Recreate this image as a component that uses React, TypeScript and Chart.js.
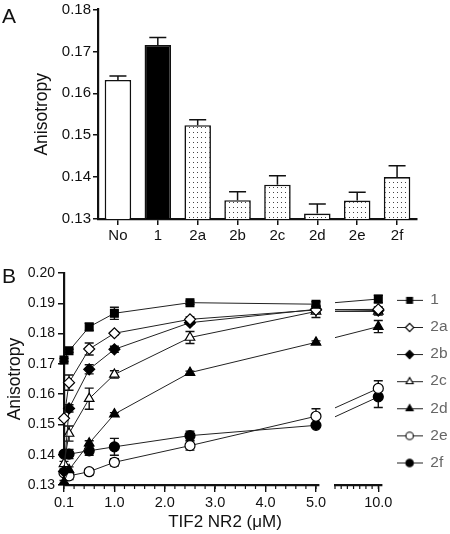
import React, { useEffect, useRef } from 'react';
import { Chart, registerables } from 'chart.js';
import { drawPoint } from 'chart.js/helpers';

Chart.register(...registerables);

const FONT = "'Liberation Sans', Arial, Helvetica, sans-serif";
const INK = '#111';

// ---------- Panel A data ----------
const A_CATEGORIES = ['No', '1', '2a', '2b', '2c', '2d', '2e', '2f'];
const A_VALUES = [0.1632, 0.1715, 0.1524, 0.1345, 0.1382, 0.1313, 0.1344, 0.14];
const A_ERRORS = [0.0009, 0.0018, 0.0013, 0.002, 0.0021, 0.0023, 0.002, 0.0027];
const A_FILL_KIND = ['open', 'solid', 'dots', 'dots', 'dots', 'dots', 'dots', 'dots'];
const A_Y_TICKS = [0.13, 0.14, 0.15, 0.16, 0.17, 0.18];

// ---------- Panel B data ----------
const B_CONC = [0, 0.1, 0.5, 1.0, 2.5, 5.0, 10.0];
const B_NAMES = ['1', '2a', '2b', '2c', '2d', '2e', '2f'];
const B_1 = [0.1713, 0.1743, 0.1822, 0.1867, 0.1902, 0.1897, 0.1914];
const B_2A = [0.152, 0.1638, 0.1749, 0.1801, 0.1847, 0.1878, 0.188];
const B_2B = [0.1345, 0.1553, 0.1682, 0.1748, 0.1836, 0.188, 0.1876];
const B_2C = [0.137, 0.147, 0.1585, 0.1665, 0.1787, 0.1873, 0.1873];
const B_2D = [0.131, 0.135, 0.1438, 0.1534, 0.1671, 0.1771, 0.1823];
const B_2E = [0.134, 0.133, 0.1344, 0.1375, 0.143, 0.1527, 0.1619];
const B_2F = [0.1402, 0.1402, 0.1413, 0.1426, 0.1463, 0.1497, 0.1591];
const E_1 = [0.0005, 0.0005, 0.0012, 0.002, 0.0005, 0.0008, 0.0012];
const E_2A = [0.0005, 0.0025, 0.002, 0.0005, 0.0008, 0.001, 0.0008];
const E_2B = [0.0008, 0.0012, 0.0015, 0.001, 0.0005, 0.001, 0.0006];
const E_2C = [0.0008, 0.0025, 0.0035, 0.0012, 0.002, 0.002, 0.0012];
const E_2D = [0.0005, 0.001, 0.0008, 0.0005, 0.0005, 0.0005, 0.002];
const E_2E = [0.0005, 0.0012, 0.001, 0.0012, 0.0015, 0.0025, 0.0025];
const E_2F = [0.0005, 0.0015, 0.0015, 0.0028, 0.0015, 0.0005, 0.0035];
const B_VALUES = [B_1, B_2A, B_2B, B_2C, B_2D, B_2E, B_2F];
const B_ERRORS = [E_1, E_2A, E_2B, E_2C, E_2D, E_2E, E_2F];
const B_X_TICKS = [0, 1, 2, 3, 4, 5];
const B_X_TICK_LABELS = ['0.1', '1.0', '2.0', '3.0', '4.0', '5.0'];
const B_X2_TICKS = [10];
const B_X2_TICK_LABELS = ['10.0'];
const B_Y_TICKS = [0.13, 0.14, 0.15, 0.16, 0.17, 0.18, 0.19, 0.2];

// marker styles (style, not data)
const B_MARKERS = [
  { style: 'rect', filled: true, r: 5.5 },
  { style: 'rectRot', filled: false, r: 5.5 },
  { style: 'rectRot', filled: true, r: 5.5 },
  { style: 'triangle', filled: false, r: 5.5 },
  { style: 'triangle', filled: true, r: 5.5 },
  { style: 'circle', filled: false, r: 5 },
  { style: 'circle', filled: true, r: 5 },
];
const LEGEND_MARKER_SCALE = 0.75;

function makeDots() {
  const c = document.createElement('canvas');
  c.width = 4;
  c.height = 5;
  const g = c.getContext('2d') as CanvasRenderingContext2D;
  g.fillStyle = '#fff';
  g.fillRect(0, 0, 4, 5);
  g.fillStyle = '#444';
  g.fillRect(1, 2, 1, 1);
  return g.createPattern(c, 'repeat');
}

function makeLegendImage(m: any) {
  const c = document.createElement('canvas');
  c.width = 26;
  c.height = 14;
  const g = c.getContext('2d') as CanvasRenderingContext2D;
  g.strokeStyle = '#222';
  g.lineWidth = 1;
  g.beginPath();
  g.moveTo(0, 7.5);
  g.lineTo(26, 7.5);
  g.stroke();
  g.fillStyle = m.filled ? '#000' : '#fff';
  g.strokeStyle = '#000';
  g.lineWidth = 1.1;
  drawPoint(
    g,
    { pointStyle: m.style, radius: m.r * LEGEND_MARKER_SCALE, borderWidth: 1.1, rotation: 0 } as any,
    13,
    7.5
  );
  return c;
}

const errorBarsA = {
  id: 'errorBarsA',
  afterDatasetsDraw(chart: any) {
    const ctx = chart.ctx;
    const ys = chart.scales.y;
    chart.data.datasets.forEach((ds: any, di: number) => {
      const meta = chart.getDatasetMeta(di);
      ctx.save();
      ctx.strokeStyle = INK;
      ctx.lineWidth = 1.5;
      meta.data.forEach((bar: any, i: number) => {
        const v = ds.data[i];
        const yTop = ys.getPixelForValue(v + ds.errors[i]);
        ctx.beginPath();
        ctx.moveTo(bar.x, bar.y);
        ctx.lineTo(bar.x, yTop);
        ctx.moveTo(bar.x - 8.5, yTop);
        ctx.lineTo(bar.x + 8.5, yTop);
        ctx.stroke();
      });
      ctx.restore();
    });
  },
};

const segClipB = {
  id: 'segClipB',
  beforeDatasetDraw(chart: any, args: any) {
    const ds = chart.data.datasets[args.index];
    const xs = args.meta.xScale;
    const a = chart.chartArea;
    const ctx = chart.ctx;
    ctx.save();
    ctx.beginPath();
    const left = ds.seg === 2 ? xs.left : xs.left - 8;
    ctx.rect(left, a.top - 10, xs.right + 8 - left, a.bottom - a.top + 20);
    ctx.clip();
  },
  afterDatasetDraw(chart: any) {
    chart.ctx.restore();
  },
};

const errorBarsB = {
  id: 'errorBarsB',
  beforeDatasetsDraw(chart: any) {
    const ctx = chart.ctx;
    chart.data.datasets.forEach((ds: any, di: number) => {
      const meta = chart.getDatasetMeta(di);
      const xs = meta.xScale;
      const ys = meta.yScale;
      ctx.save();
      ctx.strokeStyle = INK;
      ctx.lineWidth = 1.4;
      ds.data.forEach((p: any, i: number) => {
        if (p.x < xs.min || p.x > xs.max) return;
        const e = ds.errors[i];
        const x = xs.getPixelForValue(p.x);
        const y1 = ys.getPixelForValue(p.y + e);
        const y2 = ys.getPixelForValue(p.y - e);
        ctx.beginPath();
        ctx.moveTo(x, y1);
        ctx.lineTo(x, y2);
        ctx.moveTo(x - 4.5, y1);
        ctx.lineTo(x + 4.5, y1);
        ctx.moveTo(x - 4.5, y2);
        ctx.lineTo(x + 4.5, y2);
        ctx.stroke();
      });
      ctx.restore();
    });
  },
};

const minorTicksB = {
  id: 'minorTicksB',
  afterDraw(chart: any) {
    const ctx = chart.ctx;
    const specs: any[] = [
      ['x', 0, 0.2],
      ['x2', 6.5, 0.5],
    ];
    ctx.save();
    ctx.strokeStyle = INK;
    ctx.lineWidth = 1.2;
    specs.forEach(([id, start, step]) => {
      const s = chart.scales[id];
      const n = Math.floor((s.max - start) / step + 1e-6);
      for (let k = 0; k <= n; k++) {
        const px = s.getPixelForValue(start + k * step);
        ctx.beginPath();
        ctx.moveTo(px, s.top);
        ctx.lineTo(px, s.top + 4);
        ctx.stroke();
      }
    });
    ctx.restore();
  },
};

function configA(dots: any) {
  const fills = A_FILL_KIND.map((k) => (k === 'open' ? '#fff' : k === 'solid' ? '#000' : dots));
  return {
    type: 'bar',
    data: {
      labels: A_CATEGORIES,
      datasets: [
        {
          data: A_VALUES,
          errors: A_ERRORS,
          backgroundColor: fills,
          borderColor: INK,
          borderWidth: 1.6,
          borderSkipped: 'bottom',
          barPercentage: 0.665,
          categoryPercentage: 1,
        },
      ],
    },
    options: {
      responsive: false,
      animation: false,
      devicePixelRatio: 1,
      layout: { padding: { left: 0, right: 33, top: 8, bottom: 0 } },
      plugins: { legend: { display: false }, tooltip: { enabled: false } },
      scales: {
        x: {
          grid: { display: true, drawOnChartArea: false, offset: false, tickLength: 6, color: INK, lineWidth: 1.5 },
          border: { color: INK, width: 2.2 },
          ticks: { font: { family: FONT, size: 15, lineHeight: 1 }, color: INK, padding: 3, maxRotation: 0 },
          afterFit: (s: any) => {
            s.height = 21;
          },
        },
        y: {
          min: 0.13,
          max: 0.18,
          afterBuildTicks: (s: any) => {
            s.ticks = A_Y_TICKS.map((v) => ({ value: v }));
          },
          grid: { display: true, drawOnChartArea: false, tickLength: 5, color: INK, lineWidth: 1.5 },
          border: { color: INK, width: 2.2 },
          ticks: {
            font: { family: FONT, size: 15, lineHeight: 1 },
            color: INK,
            padding: 2,
            callback: (v: any) => Number(v).toFixed(2),
          },
          title: {
            display: true,
            text: 'Anisotropy',
            color: INK,
            font: { family: FONT, size: 17.5 },
            padding: { top: 31.5, bottom: 0 },
          },
          afterFit: (s: any) => {
            s.width = 98;
          },
        },
      },
    },
    plugins: [errorBarsA],
  };
}

function configB(legendImgs: any[]) {
  const datasets: any[] = [];
  B_VALUES.forEach((vals, si) => {
    const m = B_MARKERS[si];
    const pts = B_CONC.map((c, i) => ({ x: c, y: vals[i] }));
    const common = {
      label: B_NAMES[si],
      yAxisID: 'y',
      borderColor: '#222',
      borderWidth: 1,
      tension: 0,
      pointStyle: m.style,
      pointRadius: m.r,
      pointBackgroundColor: m.filled ? '#000' : '#fff',
      pointBorderColor: '#000',
      pointBorderWidth: 1.2,
      clip: 10,
    };
    datasets.push({ ...common, xAxisID: 'x', seg: 1, data: pts.slice(0, 6), errors: B_ERRORS[si].slice(0, 6) });
    datasets.push({ ...common, xAxisID: 'x2', seg: 2, data: pts.slice(5), errors: B_ERRORS[si].slice(5) });
  });
  const xTickFont = { family: FONT, size: 14.5, lineHeight: 1 };
  return {
    type: 'line',
    data: { datasets },
    options: {
      responsive: false,
      animation: false,
      devicePixelRatio: 1,
      layout: { padding: { left: 0, right: 0, top: 33, bottom: 0 } },
      plugins: {
        tooltip: { enabled: false },
        title: {
          display: true,
          position: 'bottom',
          text: 'TIF2 NR2 (\u03BCM)',
          color: INK,
          font: { family: FONT, size: 17, weight: 'normal' },
          padding: { top: 0, bottom: 1 },
        },
        legend: {
          display: true,
          position: 'right',
          align: 'start',
          maxWidth: 65,
          title: { display: true, text: '', font: { size: 7.5, lineHeight: 1 }, padding: 0 },
          labels: {
            usePointStyle: true,
            pointStyleWidth: 26,
            padding: 11.6,
            color: INK,
            font: { family: FONT, size: 15.5 },
            generateLabels: () =>
              B_NAMES.map((name, i) => ({
                text: name,
                pointStyle: legendImgs[i],
                fillStyle: '#000',
                strokeStyle: '#000',
                lineWidth: 0,
                hidden: false,
                datasetIndex: i * 2,
              })),
          },
        },
      },
      scales: {
        x: {
          type: 'linear',
          position: 'bottom',
          stack: 'xs',
          stackWeight: 255,
          min: 0,
          max: 5.06,
          afterBuildTicks: (s: any) => {
            s.ticks = B_X_TICKS.map((v) => ({ value: v }));
          },
          grid: { display: true, drawOnChartArea: false, tickLength: 7, color: INK, lineWidth: 1.4 },
          border: { color: INK, width: 2.2 },
          ticks: {
            font: xTickFont,
            color: INK,
            padding: 4,
            maxRotation: 0,
            minRotation: 0,
            autoSkip: false,
            callback: (_v: any, i: number) => B_X_TICK_LABELS[i],
          },
          afterFit: (s: any) => {
            s.height = 27.6;
          },
        },
        xgap: {
          type: 'linear',
          position: 'bottom',
          stack: 'xs',
          stackWeight: 16,
          min: 0,
          max: 1,
          grid: { display: false },
          border: { display: false },
          ticks: { display: false },
          afterFit: (s: any) => {
            s.height = 27.6;
          },
        },
        x2: {
          type: 'linear',
          position: 'bottom',
          stack: 'xs',
          stackWeight: 47,
          min: 6.5,
          max: 10.3,
          afterBuildTicks: (s: any) => {
            s.ticks = B_X2_TICKS.map((v) => ({ value: v }));
          },
          grid: { display: true, drawOnChartArea: false, tickLength: 7, color: INK, lineWidth: 1.4 },
          border: { color: INK, width: 2.2 },
          ticks: {
            font: xTickFont,
            color: INK,
            padding: 4,
            maxRotation: 0,
            minRotation: 0,
            autoSkip: false,
            callback: (_v: any, i: number) => B_X2_TICK_LABELS[i],
          },
          afterFit: (s: any) => {
            s.height = 27.6;
          },
        },
        xgapR: {
          type: 'linear',
          position: 'bottom',
          stack: 'xs',
          stackWeight: 3,
          min: 0,
          max: 1,
          grid: { display: false },
          border: { display: false },
          ticks: { display: false },
          afterFit: (s: any) => {
            s.height = 27.6;
          },
        },
        y: {
          type: 'linear',
          position: 'left',
          min: 0.13,
          max: 0.2,
          afterBuildTicks: (s: any) => {
            s.ticks = B_Y_TICKS.map((v) => ({ value: v }));
          },
          grid: { display: true, drawOnChartArea: false, tickLength: 6, color: INK, lineWidth: 1.5 },
          border: { color: INK, width: 2.2 },
          ticks: {
            font: { family: FONT, size: 14, lineHeight: 1 },
            color: INK,
            padding: 3,
            callback: (v: any) => Number(v).toFixed(2),
          },
          title: {
            display: true,
            text: 'Anisotropy',
            color: INK,
            font: { family: FONT, size: 17.5 },
            padding: { top: 4.5, bottom: 0 },
          },
          afterFit: (s: any) => {
            s.width = 64;
          },
        },
      },
    },
    plugins: [segClipB, errorBarsB, minorTicksB],
  };
}

export default function App() {
  const refA = useRef<HTMLCanvasElement>(null);
  const refB = useRef<HTMLCanvasElement>(null);

  useEffect(() => {
    const dots = makeDots();
    const legendImgs = B_MARKERS.map((m) => makeLegendImage(m));
    const chartA = new Chart(refA.current as HTMLCanvasElement, configA(dots) as any);
    const chartB = new Chart(refB.current as HTMLCanvasElement, configB(legendImgs) as any);
    return () => {
      chartA.destroy();
      chartB.destroy();
    };
  }, []);

  const panelLabel: React.CSSProperties = {
    position: 'absolute',
    left: 2,
    fontFamily: FONT,
    fontSize: 21,
    lineHeight: '21px',
    color: INK,
  };

  return (
    <div style={{ position: 'absolute', left: 0, top: 0, width: 450, height: 534, background: '#fff' }}>
      <canvas ref={refA} width={450} height={240} style={{ position: 'absolute', left: 0, top: 0 }} />
      <canvas ref={refB} width={450} height={294} style={{ position: 'absolute', left: 0, top: 240 }} />
      <div style={{ ...panelLabel, top: 4.5 }}>A</div>
      <div style={{ ...panelLabel, top: 265 }}>B</div>
    </div>
  );
}
